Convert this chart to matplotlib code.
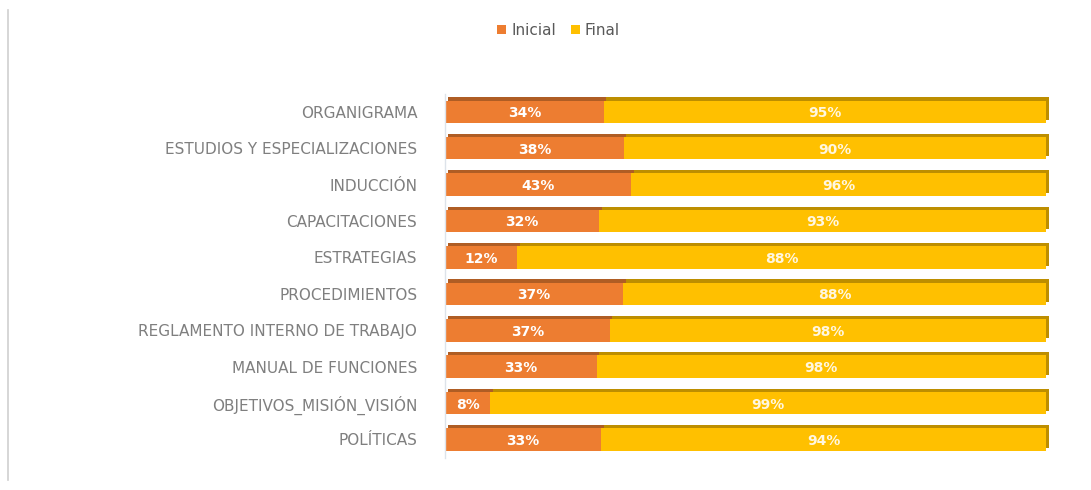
import numpy as np
import matplotlib
matplotlib.use("Agg")
import matplotlib.pyplot as plt
import matplotlib.patheffects as pe
from matplotlib.lines import Line2D
from matplotlib.patches import Patch

# Data (top to bottom)
categories = ['ORGANIGRAMA', 'ESTUDIOS Y ESPECIALIZACIONES', 'INDUCCIÓN',
              'CAPACITACIONES', 'ESTRATEGIAS', 'PROCEDIMIENTOS',
              'REGLAMENTO INTERNO DE TRABAJO', 'MANUAL DE FUNCIONES',
              'OBJETIVOS_MISIÓN_VISIÓN', 'POLÍTICAS']
inicial = [34, 38, 43, 32, 12, 37, 37, 33, 8, 33]
final = [95, 90, 96, 93, 88, 88, 98, 98, 99, 94]

orange = '#ED7D31'
yellow = '#FFC000'

ini = np.array(inicial, dtype=float)
fin = np.array(final, dtype=float)
total = ini + fin
ini_share = ini / total
fin_share = fin / total

fig = plt.figure(figsize=(10.91, 4.90), dpi=100)
ax = fig.add_axes([0.408, 0.066, 0.551, 0.743])

y = np.arange(len(categories))
bar_h = 0.62
shadow = [pe.SimplePatchShadow(offset=(1.8, 2.2), rho=0.74, alpha=1.0), pe.Normal()]

b1 = ax.barh(y, ini_share, height=bar_h, color=orange)
b2 = ax.barh(y, fin_share, left=ini_share, height=bar_h, color=yellow)
for rect in list(b1) + list(b2):
    rect.set_path_effects(shadow)
    rect.set_clip_on(False)

# data labels
for i in range(len(categories)):
    ax.text(ini_share[i] / 2, y[i] + 0.04, f'{inicial[i]}%', ha='center', va='center',
            color='white', fontsize=10, fontweight='bold')
    ax.text(ini_share[i] + fin_share[i] / 2, y[i] + 0.04, f'{final[i]}%', ha='center',
            va='center', color='#FFF7E0', fontsize=10, fontweight='bold')

ax.set_xlim(0, 1)
ax.set_ylim(len(categories) - 0.5, -0.5)
ax.set_yticks(y)
ax.set_yticklabels(categories, fontsize=11, color='#7f7f7f', family='DejaVu Sans')
ax.tick_params(axis='y', length=0, pad=20)
ax.set_xticks([])
for side in ['top', 'right', 'bottom']:
    ax.spines[side].set_visible(False)
ax.spines['left'].set_color('#dde3ea')
ax.spines['left'].set_linewidth(1.0)

handles = [Patch(facecolor=orange), Patch(facecolor=yellow)]
leg = fig.legend(handles=handles, labels=['Inicial', 'Final'], loc='center',
                 bbox_to_anchor=(0.512, 0.938), ncol=2, frameon=False,
                 fontsize=11, handlelength=0.6, handleheight=0.6,
                 handletextpad=0.3, columnspacing=1.0)
for t in leg.get_texts():
    t.set_color('#595959')

# left edge of the chart frame
fig.add_artist(Line2D([0.0075, 0.0075], [0.02, 0.98], transform=fig.transFigure,
                      color='#cfcfcf', linewidth=1.2))

fig.savefig('out.png', dpi=100, facecolor='white')
